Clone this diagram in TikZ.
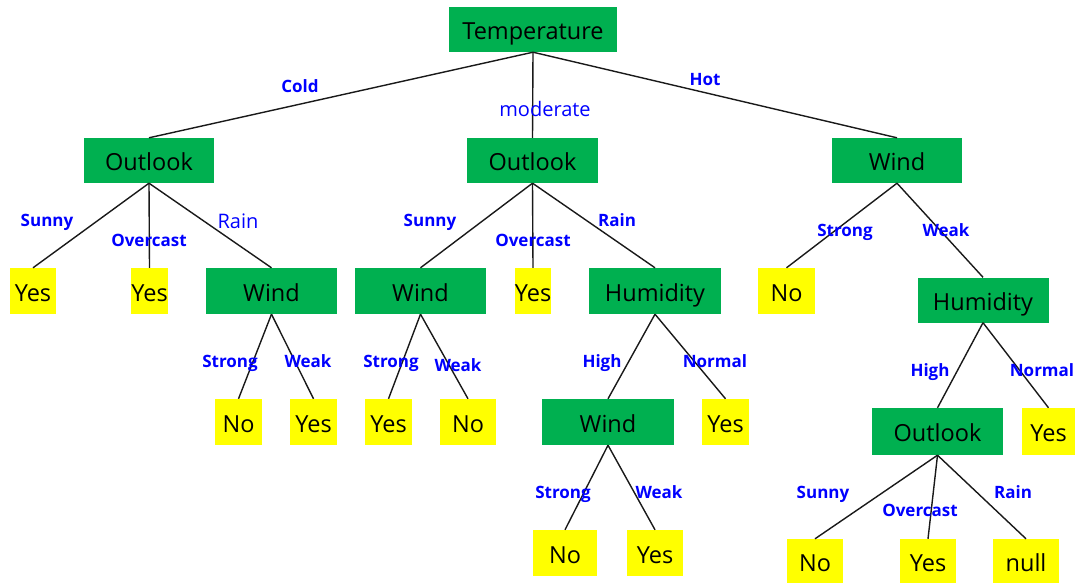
\documentclass[tikz,border=0pt]{standalone}
\usepackage{fontspec}
\setmainfont{Open Sans}
\definecolor{grn}{HTML}{00B050}
\definecolor{ylw}{HTML}{FFFF00}
\definecolor{lbl}{HTML}{0000FF}
\begin{document}
\begin{tikzpicture}[x=1pt,y=-1pt,
  gbox/.style={fill=grn,text=black,minimum height=45pt,inner sep=0pt,text height=20pt,text depth=0pt,font=\fontsize{23.5}{26}\selectfont},
  ybox/.style={fill=ylw,text=black,minimum height=46pt,inner sep=0pt,text height=20pt,text depth=0pt,font=\fontsize{23.5}{26}\selectfont},
  lab/.style={text=lbl,inner sep=0pt,text height=12pt,text depth=0pt,font=\bfseries\fontsize{17}{19}\selectfont},
  labn/.style={text=lbl,inner sep=0pt,text height=14pt,text depth=0pt,font=\fontsize{20}{22}\selectfont},
  edge/.style={draw=black!90,line width=1.4pt}]
\useasboundingbox (0,0) rectangle (1078,583);
% level 0
\node[gbox,minimum width=168pt] (T) at (533,29.5) {Temperature};
% level 1
\node[gbox,minimum width=130pt] (OL) at (149,160.5) {Outlook};
\node[gbox,minimum width=131pt] (OM) at (532.5,160.5) {Outlook};
\node[gbox,minimum width=130pt] (WR) at (897,160.5) {Wind};
% level 2
\node[ybox,minimum width=46pt] (Y1) at (33,291) {Yes};
\node[ybox,minimum width=37pt] (Y2) at (149.5,291) {Yes};
\node[gbox,minimum width=131pt,minimum height=46pt] (WL) at (271.5,291) {Wind};
\node[gbox,minimum width=131pt,minimum height=46pt] (WM) at (420.5,291) {Wind};
\node[ybox,minimum width=36pt] (YM) at (533,291) {Yes};
\node[gbox,minimum width=132pt,minimum height=46pt] (HM) at (655,291) {Humidity};
\node[ybox,minimum width=57pt] (NR) at (786.5,291) {No};
\node[gbox,minimum width=131pt] (HR) at (983,300) {Humidity};
% level 3
\node[ybox,minimum width=47pt] (N3a) at (238.5,422) {No};
\node[ybox,minimum width=47pt] (Y3a) at (313.5,422) {Yes};
\node[ybox,minimum width=47pt] (Y3b) at (388.5,422) {Yes};
\node[ybox,minimum width=56pt] (N3b) at (468,422) {No};
\node[gbox,minimum width=132pt,minimum height=46pt] (W2) at (608,422) {Wind};
\node[ybox,minimum width=47pt] (Y3c) at (725.5,422) {Yes};
\node[gbox,minimum width=131pt,minimum height=47pt] (OR) at (937.5,431.5) {Outlook};
\node[ybox,minimum width=53pt,minimum height=47pt] (Y3d) at (1048.5,431.5) {Yes};
% level 4
\node[ybox,minimum width=64pt] (N4a) at (565,553) {No};
\node[ybox,minimum width=56pt] (Y4a) at (655,553) {Yes};
\node[ybox,minimum width=56pt,minimum height=45pt] (N4b) at (815,561.5) {No};
\node[ybox,minimum width=56pt,minimum height=45pt] (Y4b) at (928,561.5) {Yes};
\node[ybox,minimum width=66pt,minimum height=45pt] (L4c) at (1026,561.5) {null};
% edges
\draw[edge] (T.south) -- (OL.north);
\draw[edge] (T.south) -- (OM.north);
\draw[edge] (T.south) -- (WR.north);
\draw[edge] (OL.south) -- (Y1.north);
\draw[edge] (OL.south) -- (Y2.north);
\draw[edge] (OL.south) -- (WL.north);
\draw[edge] (OM.south) -- (WM.north);
\draw[edge] (OM.south) -- (YM.north);
\draw[edge] (OM.south) -- (HM.north);
\draw[edge] (WR.south) -- (NR.north);
\draw[edge] (WR.south) -- (HR.north);
\draw[edge] (WL.south) -- (N3a.north);
\draw[edge] (WL.south) -- (Y3a.north);
\draw[edge] (WM.south) -- (Y3b.north);
\draw[edge] (WM.south) -- (N3b.north);
\draw[edge] (HM.south) -- (W2.north);
\draw[edge] (HM.south) -- (Y3c.north);
\draw[edge] (HR.south) -- (OR.north);
\draw[edge] (HR.south) -- (Y3d.north);
\draw[edge] (W2.south) -- (N4a.north);
\draw[edge] (W2.south) -- (Y4a.north);
\draw[edge] (OR.south) -- (N4b.north);
\draw[edge] (OR.south) -- (Y4b.north);
\draw[edge] (OR.south) -- (L4c.north);
% labels
\node[lab] (lcold) at (300,87) {Cold};
\node[labn] (lmod) at (545,110) {moderate};
\node[lab] (lhot) at (705,80) {Hot};
\node[lab] (ls1) at (47,220) {Sunny};
\node[lab] (lo1) at (149,240) {Overcast};
\node[labn] (lr1) at (238,221) {Rain};
\node[lab] (ls2) at (430,220) {Sunny};
\node[lab] (lo2) at (533,240) {Overcast};
\node[lab] (lr2) at (617,220) {Rain};
\node[lab] (lst1) at (845,230) {Strong};
\node[lab] (lw1) at (946,230) {Weak};
\node[lab] (lst2) at (230,361) {Strong};
\node[lab] (lw2) at (308,361) {Weak};
\node[lab] (lst3) at (391,361) {Strong};
\node[lab] (lw3) at (458,365) {Weak};
\node[lab] (lh1) at (602,361) {High};
\node[lab] (ln1) at (715,361) {Normal};
\node[lab] (lst4) at (563,492) {Strong};
\node[lab] (lw4) at (659,492) {Weak};
\node[lab] (lh2) at (930,370) {High};
\node[lab] (ln2) at (1042,370) {Normal};
\node[lab] (ls3) at (823,492) {Sunny};
\node[lab] (lo3) at (920,510) {Overcast};
\node[lab] (lr3) at (1013,492) {Rain};
\end{tikzpicture}
\end{document}
